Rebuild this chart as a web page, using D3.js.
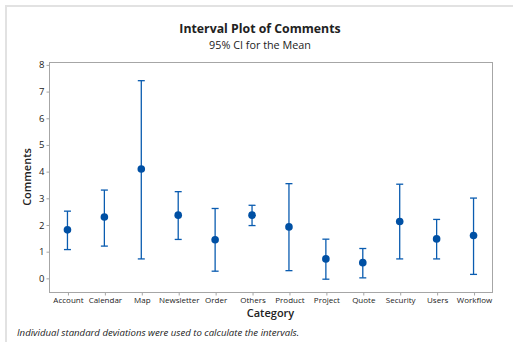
<!DOCTYPE html>
<html><head><meta charset="utf-8">
<script src="https://cdn.jsdelivr.net/npm/d3@7"></script>
<style>
html,body{margin:0;padding:0;background:#fff;}
svg{display:block;}
text{font-family:"Open Sans","Noto Sans",sans-serif;fill:#222;}
</style></head>
<body>
<script>
const categories = ["Account","Calendar","Map","Newsletter","Order","Others","Product","Project","Quote","Security","Users","Workflow"];
const means = [1.80,2.28,4.08,2.35,1.43,2.35,1.91,0.71,0.57,2.11,1.46,1.59];
const lowers = [1.06,1.19,0.71,1.44,0.25,1.96,0.27,-0.05,0.00,0.71,0.71,0.13];
const uppers = [2.50,3.29,7.39,3.23,2.60,2.72,3.53,1.45,1.10,3.51,2.19,2.99];
const yTicks = [0,1,2,3,4,5,6,7,8];

(function(){
const W = 513, H = 342;
const pL = 49, pR = 492, pT = 62, pB = 292;
const svg = d3.select("body").append("svg").attr("width", W).attr("height", H);

// outer frame
svg.append("line").attr("x1",5).attr("x2",W).attr("y1",6).attr("y2",6).attr("stroke","#e2e2e2").attr("stroke-width",2);
svg.append("line").attr("x1",6).attr("x2",6).attr("y1",5).attr("y2",H).attr("stroke","#e2e2e2").attr("stroke-width",2);

const x = d3.scalePoint().domain(categories).range([pL, pR]).padding(0.5);
const y = d3.scaleLinear().domain([-0.53, 8.09]).range([pB, pT]);

const data = categories.map((c,i)=>({c, m:means[i], lo:lowers[i], hi:uppers[i]}));

// plot frame
svg.append("rect").attr("x",pL+0.5).attr("y",pT+0.5).attr("width",pR-pL).attr("height",pB-pT)
  .attr("fill","none").attr("stroke","#a6a6a6").attr("stroke-width",1);

// axes
const yAxis = svg.append("g").attr("transform",`translate(${pL+0.5},0.5)`)
  .call(d3.axisLeft(y).tickValues(yTicks).tickSize(3).tickPadding(2).tickFormat(d3.format("d")));
yAxis.select(".domain").remove();
yAxis.selectAll("line").attr("stroke","#a6a6a6");
yAxis.selectAll("text").attr("font-size","9.5px").attr("fill","#222");

const xAxis = svg.append("g").attr("transform",`translate(0.5,${pB+0.5})`)
  .call(d3.axisBottom(x).tickSize(3).tickPadding(2));
xAxis.select(".domain").remove();
xAxis.selectAll("line").attr("stroke","#a6a6a6");
xAxis.selectAll("text").attr("font-size","8px").attr("fill","#222");

const col = "#0a5cb0";
const g = svg.append("g");
g.selectAll(".v").data(data).enter().append("line")
  .attr("x1",d=>x(d.c)).attr("x2",d=>x(d.c)).attr("y1",d=>y(d.lo)).attr("y2",d=>y(d.hi))
  .attr("stroke",col).attr("stroke-width",1.3);
const cap = 3.5;
g.selectAll(".ct").data(data).enter().append("line")
  .attr("x1",d=>x(d.c)-cap).attr("x2",d=>x(d.c)+cap).attr("y1",d=>y(d.hi)).attr("y2",d=>y(d.hi))
  .attr("stroke",col).attr("stroke-width",1.3);
g.selectAll(".cb").data(data).enter().append("line")
  .attr("x1",d=>x(d.c)-cap).attr("x2",d=>x(d.c)+cap).attr("y1",d=>y(d.lo)).attr("y2",d=>y(d.lo))
  .attr("stroke",col).attr("stroke-width",1.3);
g.selectAll("circle").data(data).enter().append("circle")
  .attr("cx",d=>x(d.c)).attr("cy",d=>y(d.m)).attr("r",3.8).attr("fill","#0050a4");

// titles
const tx = 260;
svg.append("text").attr("x",tx).attr("y",33).attr("text-anchor","middle")
  .attr("font-size","12.3px").attr("font-weight","bold").text("Interval Plot of Comments");
svg.append("text").attr("x",tx).attr("y",48.5).attr("text-anchor","middle")
  .attr("font-size","10.8px").text("95% CI for the Mean");
svg.append("text").attr("x",(pL+pR)/2).attr("y",317).attr("text-anchor","middle")
  .attr("font-size","11px").attr("font-weight","600").text("Category");
svg.append("text").attr("transform",`translate(31,${(pT+pB)/2}) rotate(-90)`).attr("text-anchor","middle")
  .attr("font-size","11px").attr("font-weight","600").text("Comments");
svg.append("text").attr("x",17).attr("y",336).attr("font-size","9.6px").attr("font-style","italic")
  .text("Individual standard deviations were used to calculate the intervals.");
})();
</script>
</body></html>
